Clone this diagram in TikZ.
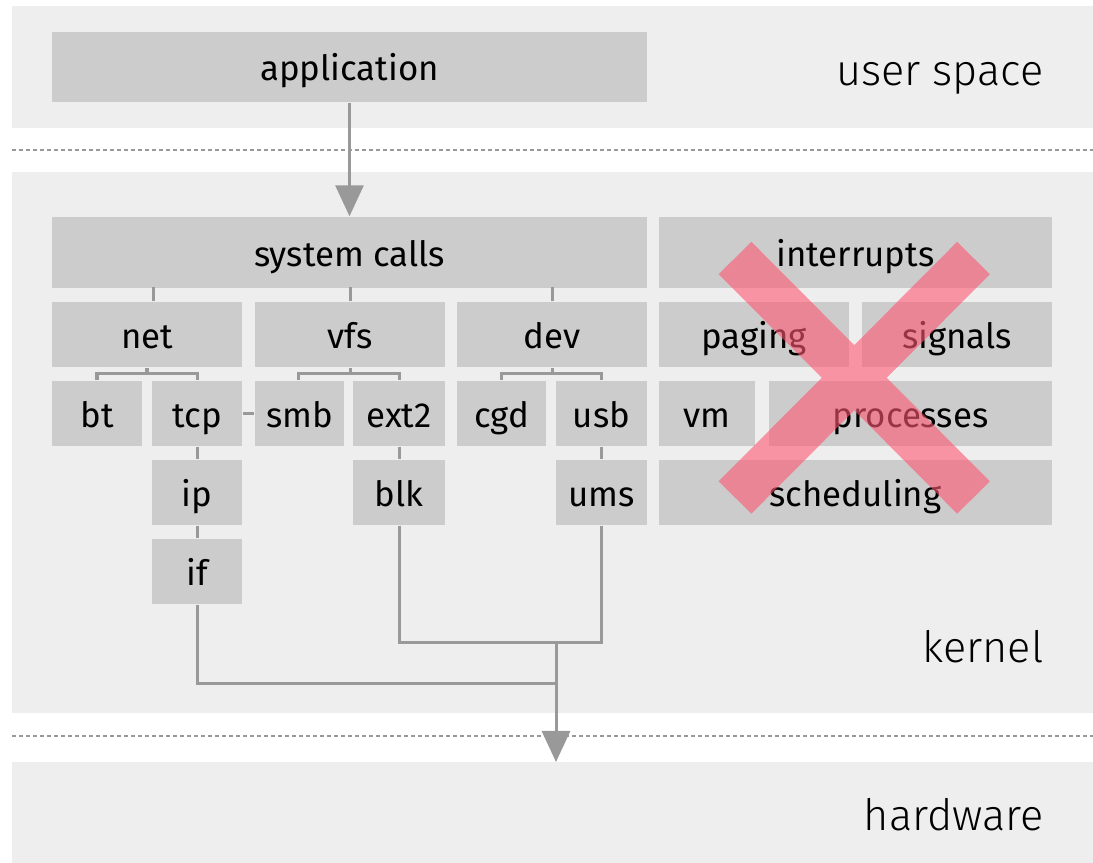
\documentclass[tikz,border=0pt]{standalone}
\usepackage{fontspec}
\setmainfont{Fira Sans}
\newfontfamily\lightfont{Fira Sans Light}
\usetikzlibrary{arrows.meta}

\definecolor{bandgray}{HTML}{EEEEEE}
\definecolor{boxgray}{HTML}{CCCCCC}
\definecolor{linegray}{HTML}{999999}
\definecolor{crossred}{RGB}{255,87,114}

\tikzset{
  band/.style={fill=bandgray, draw=none},
  layer/.style={fill=boxgray, draw=none, inner sep=0pt, text=black,
    text height=0.27cm, text depth=0cm,
    font=\fontsize{9.9pt}{12pt}\selectfont},
  conn/.style={draw=linegray, line width=0.03cm},
  flow/.style={conn, -{Triangle[width=0.28cm, length=0.31cm]}},
  divider/.style={draw=linegray, line width=0.02cm, dash pattern=on 0.04cm off 0.03cm},
  zone/.style={anchor=base east, inner sep=0pt, text=black,
    font=\lightfont\fontsize{12.3pt}{14pt}\selectfont},
  cross/.style={draw=crossred, line width=0.46cm, line cap=butt},
}

\begin{document}
\begin{tikzpicture}[x=0.01cm, y=-0.01cm]
  \useasboundingbox (0,0) rectangle (1093,863);

  % layer bands
  \fill[band] (12,6) rectangle (1093,128);
  \fill[band] (12,172) rectangle (1093,713);
  \fill[band] (12,762) rectangle (1093,863);
  \draw[divider] (12,150) -- (1093,150);
  \draw[divider] (12,736) -- (1093,736);

  % user space
  \node[layer, minimum width=5.95cm, minimum height=0.70cm] (app) at (349.5,67) {application};

  % kernel: top row
  \node[layer, minimum width=5.95cm, minimum height=0.71cm] (sys) at (349.5,252.5) {system calls};
  \node[layer, minimum width=3.93cm, minimum height=0.71cm] (irq) at (855.5,252.5) {interrupts};

  % subsystems
  \node[layer, minimum width=1.90cm, minimum height=0.65cm] (net) at (147,334.5) {net};
  \node[layer, minimum width=1.90cm, minimum height=0.65cm] (vfs) at (350,334.5) {vfs};
  \node[layer, minimum width=1.90cm, minimum height=0.65cm] (dev) at (552,334.5) {dev};
  \node[layer, minimum width=1.90cm, minimum height=0.65cm] (paging) at (754,334.5) {paging};
  \node[layer, minimum width=1.90cm, minimum height=0.65cm] (signals) at (957,334.5) {signals};

  \node[layer, minimum width=0.90cm, minimum height=0.65cm] (bt) at (97,413.5) {bt};
  \node[layer, minimum width=0.90cm, minimum height=0.65cm] (tcp) at (197,413.5) {tcp};
  \node[layer, minimum width=0.89cm, minimum height=0.65cm] (smb) at (299.5,413.5) {smb};
  \node[layer, minimum width=0.91cm, minimum height=0.65cm] (ext2) at (399,413.5) {ext2};
  \node[layer, minimum width=0.89cm, minimum height=0.65cm] (cgd) at (501.5,413.5) {cgd};
  \node[layer, minimum width=0.91cm, minimum height=0.65cm] (usb) at (601.5,413.5) {usb};
  \node[layer, minimum width=0.96cm, minimum height=0.65cm] (vm) at (707,413.5) {vm};
  \node[layer, minimum width=2.83cm, minimum height=0.65cm] (proc) at (910.5,413.5) {processes};

  \node[layer, minimum width=0.90cm, minimum height=0.65cm] (ip) at (197,492.5) {ip};
  \node[layer, minimum width=0.92cm, minimum height=0.65cm] (blk) at (399,492.5) {blk};
  \node[layer, minimum width=0.91cm, minimum height=0.65cm] (ums) at (601.5,492.5) {ums};
  \node[layer, minimum width=3.93cm, minimum height=0.65cm] (sched) at (855.5,492.5) {scheduling};

  \node[layer, minimum width=0.90cm, minimum height=0.65cm] (if) at (197,571.5) {if};

  % zone labels
  \node[zone] (luser) at (1044,85) {user space};
  \node[zone] (lkernel) at (1044,662) {kernel};
  \node[zone] (lhw) at (1044,830) {hardware};

  % connectors
  \draw[flow] (app.south) -- (sys.north);
  \draw[conn] ([xshift=0.06cm]net.north) -- ++(0,-14);
  \draw[conn] (vfs.north) -- ++(0,-14);
  \draw[conn] (dev.north) -- ++(0,-14);

  \draw[conn] (net.south) -- ++(0,7);
  \draw[conn] (bt.north) -- ++(0,-7) -| (tcp.north);
  \draw[conn] (vfs.south) -- ++(0,7);
  \draw[conn] ([xshift=-0.01cm]smb.north) -- ++(0,-7) -| (ext2.north);
  \draw[conn] (dev.south) -- ++(0,7);
  \draw[conn] ([xshift=-0.005cm]cgd.north) -- ++(0,-7) -| (usb.north);

  \draw[conn] (tcp.east) -- (smb.west);
  \draw[conn] (tcp.south) -- (ip.north);
  \draw[conn] (ip.south) -- (if.north);
  \draw[conn] (ext2.south) -- (blk.north);
  \draw[conn] (usb.south) -- (ums.north);

  \coordinate (jlow) at (556,683);
  \coordinate (jhigh) at (556,642);
  \coordinate (hw) at (556,762);
  \draw[conn] (if.south) |- (jlow);
  \draw[conn] (blk.south) |- (ums.south |- jhigh) -- (ums.south);
  \draw[flow] (jhigh) -- (hw);

  % crossed-out block, one translucent layer
  \begin{scope}[transparency group, opacity=0.6]
    \draw[cross] (735,258) -- (973.5,497.5);
    \draw[cross] (973.5,258) -- (735,497.5);
  \end{scope}
\end{tikzpicture}
\end{document}
